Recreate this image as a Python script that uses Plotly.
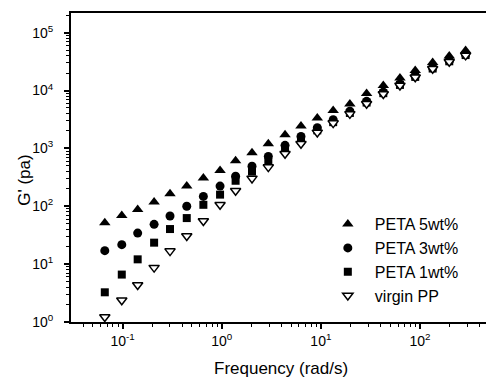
import plotly.graph_objects as go

freq = [0.0662, 0.0982, 0.142, 0.208, 0.301, 0.444, 0.653, 0.962, 1.38, 2.02, 2.95,
        4.35, 6.30, 9.2, 13.3, 19.6, 28.9, 42.6, 62.7, 89.4, 134, 197, 288]

peta5 = [52, 69, 88, 118, 165, 223, 307, 417, 610, 845, 1205, 1720, 2430, 3340,
         4530, 5870, 8900, 12200, 16500, 22200, 30600, 39600, 49200]
peta3 = [17.1, 21.7, 34.4, 48.7, 68, 100, 148, 223, 330, 492, 728, 1130, 1610, 2280,
         3130, 4400, 6500, 9400, 13000, 17700, 24500, 32500, 41500]
peta1 = [3.26, 6.6, 12.1, 23.5, 40.4, 62.5, 106, 159, 276, 398, 580, 950, 1370, 2050,
         2840, 4100, 6200, 9000, 12500, 17200, 24000, 32000, 41000]
virgin = [1.22, 2.37, 4.35, 8.7, 16.8, 30.6, 55.5, 106, 185, 303, 475, 810, 1205, 1890,
          2735, 3950, 5900, 8700, 12200, 17000, 23800, 31500, 40500]

series_names = ["PETA 5wt%", "PETA 3wt%", "PETA 1wt%", "virgin PP"]

x_tickvals = [0.1, 1, 10, 100]
x_ticktext = ["10<sup>-1</sup>", "10<sup>0</sup>", "10<sup>1</sup>", "10<sup>2</sup>"]
y_tickvals = [1, 10, 100, 1000, 10000, 100000]
y_ticktext = ["10<sup>0</sup>", "10<sup>1</sup>", "10<sup>2</sup>", "10<sup>3</sup>",
              "10<sup>4</sup>", "10<sup>5</sup>"]

FONT = "Liberation Sans, Arial, Helvetica, sans-serif"

def minor_vals(lo, hi):
    vals = []
    for e in range(lo, hi + 1):
        for m in range(2, 10):
            vals.append(m * 10 ** e)
    return vals

fig = go.Figure()
styles = [
    dict(symbol="triangle-up", size=10, color="black", line=dict(width=0)),
    dict(symbol="circle", size=9, color="black", line=dict(width=0)),
    dict(symbol="square", size=8, color="black", line=dict(width=0)),
    dict(symbol="triangle-down", size=9, color="white", line=dict(width=1.5, color="black")),
]
for name, ys, st in zip(series_names, [peta5, peta3, peta1, virgin], styles):
    fig.add_trace(go.Scatter(x=freq, y=ys, mode="markers", name=name,
                             marker=st, cliponaxis=False))

fig.update_layout(
    width=487, height=380,
    margin=dict(l=71, r=1, t=13, b=58),
    paper_bgcolor="white", plot_bgcolor="white",
    font=dict(family=FONT, size=14, color="black"),
    showlegend=True,
    legend=dict(x=0.602, y=0.2, xanchor="left", yanchor="middle",
                font=dict(size=16, family=FONT, color="black"),
                bgcolor="rgba(0,0,0,0)", itemwidth=44, tracegroupgap=0),
    xaxis=dict(type="log", range=[-1.52, 2.665], showgrid=False, zeroline=False,
               showline=True, linecolor="black", linewidth=2, mirror=True,
               ticks="outside", ticklen=5, tickwidth=1.5, tickcolor="black",
               tickvals=x_tickvals, ticktext=x_ticktext,
               tickfont=dict(size=14, family=FONT, color="black"),
               minor=dict(tickvals=minor_vals(-2, 2), ticks="outside", ticklen=3,
                          tickwidth=1, tickcolor="black", showgrid=False)),
    yaxis=dict(type="log", range=[0, 5.34], showgrid=False, zeroline=False,
               showline=True, linecolor="black", linewidth=2,
               ticks="outside", ticklen=5, tickwidth=1.5, tickcolor="black",
               tickvals=y_tickvals, ticktext=y_ticktext, ticklabelstandoff=8,
               tickfont=dict(size=14, family=FONT, color="black"),
               minor=dict(tickvals=minor_vals(0, 5), ticks="outside", ticklen=3,
                          tickwidth=1, tickcolor="black", showgrid=False)),
    annotations=[
        dict(text="Frequency (rad/s)", xref="paper", yref="paper", x=0.505, y=-0.113,
             xanchor="center", yanchor="top", showarrow=False,
             font=dict(size=17, family=FONT, color="black")),
        dict(text="G' (pa)", xref="paper", yref="paper", x=-0.111, y=0.46,
             xanchor="center", yanchor="middle", showarrow=False, textangle=-90,
             font=dict(size=17, family=FONT, color="black")),
    ],
)

fig.write_html("out.html")
